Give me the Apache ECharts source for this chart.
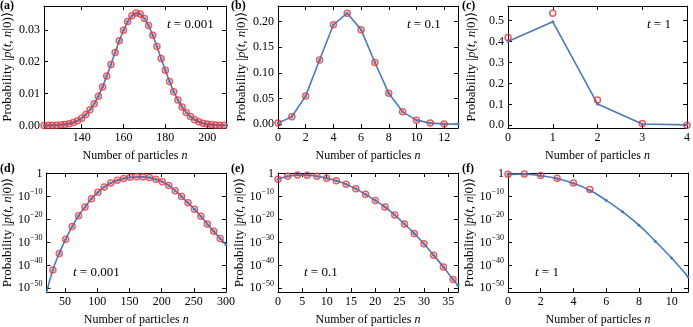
<!DOCTYPE html>
<html><head><meta charset="utf-8">
<script src="https://cdn.jsdelivr.net/npm/echarts@6/dist/echarts.min.js"></script>
<style>html,body{margin:0;padding:0;background:#fff}#c{width:693px;height:327px}</style>
</head><body><div id="c"></div>
<script>
// ---------- data ----------
// (a) t = 0.001, linear
const aN = [122,124,126,128,130,132,134,136,138,140,142,144,146,148,150,152,154,156,158,160,162,164,166,168,170,172,174,176,178,180,182,184,186,188,190,192,194,196,198,200,202,204,206,208,210];
const aP = [0.00002,0.00003,0.00006,0.0001,0.0002,0.00033,0.00056,0.00093,0.0015,0.0023,0.0034,0.0049,0.0068,0.0092,0.0121,0.0155,0.0191,0.0229,0.0266,0.0299,0.0326,0.0344,0.0353,0.0350,0.0336,0.0314,0.0283,0.0248,0.0210,0.0173,0.0138,0.0106,0.0080,0.0058,0.0041,0.0028,0.0018,0.0012,0.0007,0.00044,0.00026,0.00015,0.00008,0.00004,0.00002];
// (b) t = 0.1, linear
const bN = [0,1,2,3,4,5,6,7,8,9,10,11,12,13];
const bLine = [0.002,0.0143,0.055,0.125,0.1935,0.216,0.184,0.120,0.060,0.024,0.0078,0.002,0.0005,0.0001];
const bCircN = [0,1,2,3,4,5,6,7,8,9,10,11,12];
const bCirc = [0.002,0.0143,0.055,0.125,0.1935,0.216,0.184,0.120,0.060,0.024,0.0078,0.002,0.0005];
// (c) t = 1, linear
const cN = [0,1,2,3,4];
const cLine = [0.40,0.495,0.102,0.006,0.002];
const cCirc = [0.42,0.535,0.121,0.008,0.0];
// (d) t = 0.001, log10 of probability
const dLineN = [21,31,41,51,61,71,81,91,101,111,121,131,141,151,161,171,181,191,201,211,221,231,241,251,261,271,281,291,300];
const dLineL = [-52,-42,-34.8,-28.6,-23.1,-18.4,-14.6,-11.0,-8.2,-5.9,-4.2,-3.0,-2.2,-1.7,-1.48,-1.5,-1.8,-2.5,-3.6,-5.2,-7.5,-10.0,-12.8,-15.6,-18.6,-22,-25.2,-28.3,-31];
const dCircN = [31,41,51,61,71,81,91,101,111,121,131,141,151,161,171,181,191,201,211,221,231,241,251,261,271,281,291];
const dCircL = [-42,-34.8,-28.6,-23.1,-18.4,-14.6,-11.0,-8.2,-5.9,-4.2,-3.0,-2.2,-1.7,-1.48,-1.5,-1.8,-2.5,-3.6,-5.2,-7.5,-10.0,-12.8,-15.6,-18.6,-22,-25.2,-28.3];
// (e) t = 0.1, log10
const eLineN = [0,2,4,6,8,10,12,14,16,18,20,22,24,26,28,30,32,34,36,37];
const eLineL = [-2.5,-1.25,-0.72,-0.74,-1.2,-2.05,-3.2,-4.7,-6.7,-9.1,-11.8,-14.6,-18.1,-22,-26.1,-30.6,-35.6,-40.7,-46.2,-48.8];
const eCircN = [0,2,4,6,8,10,12,14,16,18,20,22,24,26,28,30,32,34,36];
const eCircL = [-2.5,-1.25,-0.72,-0.74,-1.2,-2.05,-3.2,-4.7,-6.7,-9.1,-11.8,-14.6,-18.1,-22,-26.1,-30.6,-35.6,-40.7,-46.2];
// (f) t = 1, log10
const fLineN = [0,1,2,3,4,5,6,7,8,9,10,11];
const fLineL = [-0.4,-0.3,-1.0,-2.2,-4.3,-7.3,-11.7,-16.7,-22.5,-29.5,-36.8,-45];
const fCircN = [0,1,2,3,4,5];
const fCircL = [-0.38,-0.27,-0.92,-2.1,-4.1,-7.0];
// tick labels
const aXTicks = [140,160,180,200], aYTicks = [0,0.01,0.02,0.03];
const bXTicks = [0,2,4,6,8,10,12], bYTicks = [0,0.05,0.10,0.15,0.20];
const cXTicks = [0,1,2,3,4], cYTicks = [0,0.1,0.2,0.3,0.4,0.5];
const dXTicks = [50,100,150,200,250,300];
const eXTicks = [0,5,10,15,20,25,30,35];
const fXTicks = [0,2,4,6,8,10];
const logTicks = [-50,-40,-30,-20,-10,0];

// ---------- styling / layout ----------
const FONT = '"Liberation Serif","Times New Roman",Times,serif';
const BLUE = '#4a7bb7', RED = '#e3353b';
const zip = (xs, ys) => xs.map((x, i) => [x, ys[i]]);
const logFmt = v => v === 0 ? '{b|1}' : '{b|10}{s|−' + (-v) + '}';
const richLbl = { b: { fontSize: 12, fontFamily: FONT, color: '#000' }, s: { fontSize: 8, fontFamily: FONT, color: '#000', padding: [0, 0, 9, 0] } };
const italicX = { i: { fontStyle: 'italic', fontFamily: FONT, fontSize: 12, color: '#000' } };
const italicY = { i: { fontStyle: 'italic', fontFamily: FONT, fontSize: 13, color: '#000' } };

const panels = [
  { id: 'a', g: [44, 6, 182, 122], x: [122, 209], y: [-0.0008, 0.0375], xt: aXTicks, yt: aYTicks, yf: v => v.toFixed(2),
    line: zip(aN, aP), circ: zip(aN, aP), smooth: false, t: '0.001', tpos: [167, 25] },
  { id: 'b', g: [278, 6, 180, 122], x: [0, 13], y: [-0.0075, 0.23], xt: bXTicks, yt: bYTicks, yf: v => v.toFixed(2),
    line: zip(bN, bLine), circ: zip(bCircN, bCirc), smooth: false, t: '0.1', tpos: [407, 25] },
  { id: 'c', g: [508, 6, 180, 122], x: [0, 4], y: [-0.013, 0.57], xt: cXTicks, yt: cYTicks, yf: v => v.toFixed(1),
    line: zip(cN, cLine), circ: zip(cN, cCirc), smooth: false, t: '1', tpos: [647, 25] },
  { id: 'd', g: [44, 173, 182, 120], x: [21, 300], y: [-51.6, 0.2], xt: dXTicks, yt: logTicks, yf: logFmt,
    line: zip(dLineN, dLineL), circ: zip(dCircN, dCircL), smooth: true, t: '0.001', tpos: [73, 273] },
  { id: 'e', g: [278, 173, 180, 120], x: [0, 37], y: [-51.6, 0.2], xt: eXTicks, yt: logTicks, yf: logFmt,
    line: zip(eLineN, eLineL), circ: zip(eCircN, eCircL), smooth: true, t: '0.1', tpos: [304, 273] },
  { id: 'f', g: [508, 173, 180, 120], x: [0, 11], y: [-51.6, 0.2], xt: fXTicks, yt: logTicks, yf: logFmt,
    line: zip(fLineN, fLineL), circ: zip(fCircN, fCircL), smooth: true, t: '1', tpos: [535, 273] }
];

const grid = [], xAxis = [], yAxis = [], series = [], graphic = [];
const axLine = { onZero: false, lineStyle: { color: '#000', width: 1 } };
panels.forEach((p, i) => {
  grid.push({ left: p.g[0], top: p.g[1], width: p.g[2], height: p.g[3] });
  const tick = vals => ({ inside: true, length: 4, customValues: vals, lineStyle: { color: '#000', width: 1 } });
  xAxis.push({ gridIndex: i, type: 'value', min: p.x[0], max: p.x[1], axisLine: axLine, axisTick: tick(p.xt),
    axisLabel: { customValues: p.xt, color: '#000', fontFamily: FONT, fontSize: 12, margin: 4 }, splitLine: { show: false },
    name: 'Number of particles {i|n}', nameLocation: 'middle', nameGap: 22,
    nameTextStyle: { fontFamily: FONT, fontSize: 12, color: '#000', rich: italicX } });
  xAxis.push({ gridIndex: i, type: 'value', position: 'top', min: p.x[0], max: p.x[1], axisLine: axLine, axisTick: tick(p.xt),
    axisLabel: { show: false }, splitLine: { show: false } });
  yAxis.push({ gridIndex: i, type: 'value', min: p.y[0], max: p.y[1], axisLine: axLine, axisTick: tick(p.yt),
    axisLabel: { customValues: p.yt, color: '#000', fontFamily: FONT, fontSize: 12, margin: 4, formatter: p.yf, rich: richLbl },
    splitLine: { show: false },
    name: 'Probability |{i|p}({i|t}, {i|n}|0)⟩', nameLocation: 'middle', nameGap: 30,
    nameTextStyle: { fontFamily: FONT, fontSize: 13, color: '#000', rich: italicY } });
  yAxis.push({ gridIndex: i, type: 'value', position: 'right', min: p.y[0], max: p.y[1], axisLine: axLine, axisTick: tick(p.yt),
    axisLabel: { show: false }, splitLine: { show: false } });
  series.push({ type: 'line', xAxisIndex: 2 * i, yAxisIndex: 2 * i, data: p.line, smooth: p.smooth,
    symbol: 'circle', symbolSize: 3, showSymbol: true, itemStyle: { color: BLUE }, lineStyle: { color: BLUE, width: 1.6 }, z: 2 });
  series.push({ type: 'scatter', xAxisIndex: 2 * i, yAxisIndex: 2 * i, data: p.circ, symbol: 'circle', symbolSize: 6,
    itemStyle: { color: 'rgba(0,0,0,0)', borderColor: RED, borderWidth: 1.5 }, z: 3 });
  graphic.push({ type: 'text', x: p.tpos[0], y: p.tpos[1],
    style: { text: '{i|t} = ' + p.t, fontFamily: FONT, fontSize: 13, fill: '#000', verticalAlign: 'middle',
      rich: { i: { fontStyle: 'italic', fontFamily: FONT, fontSize: 13 } } } });
});
const lbl = [['(a)', 0, 0], ['(b)', 231, 0], ['(c)', 462, 0], ['(d)', 0, 163], ['(e)', 231, 163], ['(f)', 462, 163]];
lbl.forEach(l => graphic.push({ type: 'text', x: l[1], y: l[2],
  style: { text: l[0], fontFamily: FONT, fontSize: 12, fontWeight: 'bold', fill: '#000', verticalAlign: 'top' } }));

const chart = echarts.init(document.getElementById('c'), null, { renderer: 'canvas' });
chart.setOption({ animation: false, backgroundColor: '#fff', grid, xAxis, yAxis, series, graphic });
</script></body></html>
